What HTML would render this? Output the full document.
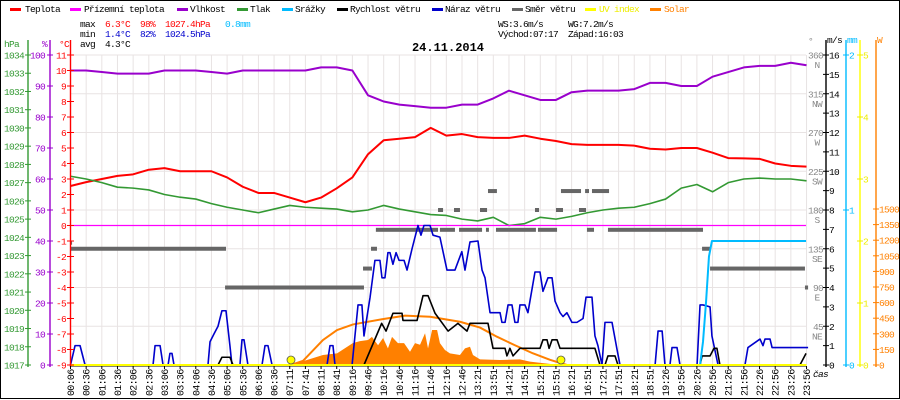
<!DOCTYPE html>
<html><head><meta charset="utf-8"><style>
html,body{margin:0;padding:0;background:#fff;}
svg{display:block;font-family:"Liberation Mono",monospace;}
svg text{letter-spacing:-0.7px;}
svg text.title{letter-spacing:0;}
</style></head><body>
<svg id="chart" width="900" height="400" viewBox="0 0 900 400" xmlns="http://www.w3.org/2000/svg">
<rect x="0.5" y="0.5" width="899" height="398" fill="#fff" stroke="#000" stroke-width="1"/>
<g id="legend" font-size="9.5">
 <g><rect x="10" y="8" width="11" height="3" fill="#ff0000"/><text x="25" y="12">Teplota</text></g>
 <g><rect x="70" y="8" width="11" height="3" fill="#ff00ff"/><text x="84" y="12">Přízemní teplota</text></g>
 <g><rect x="177" y="8" width="11" height="3" fill="#9900cc"/><text x="190" y="12">Vlhkost</text></g>
 <g><rect x="237" y="8" width="11" height="3" fill="#339933"/><text x="250" y="12">Tlak</text></g>
 <g><rect x="282" y="8" width="11" height="3" fill="#00bbff"/><text x="295" y="12">Srážky</text></g>
 <g><rect x="337" y="8" width="11" height="3" fill="#000"/><text x="350" y="12">Rychlost větru</text></g>
 <g><rect x="432" y="8" width="11" height="3" fill="#0000cc"/><text x="445" y="12">Náraz větru</text></g>
 <g><rect x="512" y="8" width="11" height="3" fill="#666"/><text x="525" y="12">Směr větru</text></g>
 <g><rect x="585" y="8" width="11" height="3" fill="#ffff00"/><text x="599" y="12" fill="#eeee00">UV index</text></g>
 <g><rect x="650" y="8" width="11" height="3" fill="#ff8000"/><text x="664" y="12" fill="#ff8000">Solar</text></g>
</g>
<g font-size="9.5">
 <text x="80" y="27">max</text><text x="105" y="27" fill="#f00">6.3°C</text><text x="140" y="27" fill="#f00">98%</text><text x="165" y="27" fill="#f00">1027.4hPa</text><text x="225" y="27" fill="#00bbff">0.8mm</text>
 <text x="80" y="37">min</text><text x="105" y="37" fill="#00c">1.4°C</text><text x="140" y="37" fill="#00c">82%</text><text x="165" y="37" fill="#00c">1024.5hPa</text>
 <text x="80" y="47">avg</text><text x="105" y="47">4.3°C</text>
 <text x="498" y="27">WS:3.6m/s</text><text x="568" y="27">WG:7.2m/s</text>
 <text x="498" y="37">Východ:07:17</text><text x="568" y="37">Západ:16:03</text>
</g>
<text class="title" x="448" y="51" text-anchor="middle" font-size="12" font-weight="bold">24.11.2014</text>
<g id="plot"></g>
</svg>
<script>
// ---- data ----
const timeLabels = ["00:06","00:36","01:06","01:36","02:06","02:36","03:06","03:36","04:06","04:36","05:06","05:36","06:06","06:36","07:11","07:41","08:11","08:41","09:16","09:46","10:16","10:46","11:16","11:46","12:16","12:46","13:21","13:51","14:21","14:51","15:21","15:51","16:21","16:51","17:21","17:51","18:21","18:51","19:26","19:56","20:26","20:56","21:26","21:56","22:26","22:56","23:26","23:56"];
const humidity = [95,95,94.5,94,94,94,95,95,95,94.5,94,95,95,95,95,95,96,96,95,87,85,84,83.5,83,83,84,84,86,88.5,87,85.5,85.5,88,88.5,88.5,88.5,89,91,91,90,90,93,94.5,96,96.5,96.5,97.5,96.7];
const temperature = [2.55,2.8,3.0,3.2,3.3,3.6,3.7,3.5,3.5,3.5,3.1,2.5,2.1,2.1,1.8,1.5,1.8,2.4,3.1,4.6,5.5,5.6,5.7,6.3,5.8,5.9,5.7,5.65,5.65,5.8,5.6,5.45,5.25,5.2,5.2,5.2,5.15,4.95,4.9,5.0,5.0,4.7,4.35,4.33,4.3,4.0,3.85,3.8];
const pressure = [1027.35,1027.2,1027.0,1026.75,1026.7,1026.6,1026.35,1026.2,1026.1,1025.85,1025.65,1025.5,1025.35,1025.55,1025.75,1025.65,1025.6,1025.55,1025.4,1025.5,1025.75,1025.55,1025.4,1025.25,1025.2,1025.0,1024.9,1025.1,1024.65,1024.75,1025.1,1025.0,1025.15,1025.35,1025.5,1025.6,1025.65,1025.85,1026.1,1026.7,1026.9,1026.5,1027.0,1027.2,1027.25,1027.2,1027.2,1027.1];
const apparentTemp = [0,0];
const gustT = [0,0.29,0.61,0.93,5.27,5.40,5.72,5.91,6.23,6.35,6.48,6.61,8.78,8.91,9.16,9.42,9.67,9.93,10.18,10.31,10.82,10.95,11.08,11.33,12.23,12.42,12.61,12.87,16.38,16.57,16.76,16.89,17.98,18.36,18.61,18.74,19.13,19.44,19.76,19.89,20.08,20.27,20.40,20.59,20.79,20.98,21.30,21.49,21.81,22.19,22.38,22.57,22.76,22.96,23.15,23.59,24.04,24.55,24.99,25.19,25.51,26.02,26.28,26.47,26.79,27.43,27.55,27.75,27.94,28.19,28.38,28.57,28.70,29.02,29.21,29.66,29.98,30.17,30.49,30.75,30.94,31.26,31.45,31.70,32.02,32.34,32.73,32.92,33.30,33.49,33.68,33.94,34.13,34.58,34.90,35.09,37.33,37.52,37.78,37.96,38.28,38.41,38.73,38.92,40.01,40.20,40.39,40.84,40.96,41.35,43.07,43.26,44.03,44.22,44.35,44.67,44.80,45.63,47.10];
const gustV = [0,1,1,0,0,1,1,0,0,0.6,0.6,0,0,1.2,1.6,2,2.8,2.8,1,0,0,1.3,1.3,0,0,1,1,0,0,1,1,0,0,3.1,3.1,1.5,3.5,5.4,5.4,4.5,4.5,5.8,5.8,5.2,5.8,5.4,5.4,4.9,6,7.2,6.7,7.2,7.2,7.2,6.7,6.6,4.9,4.9,5.85,4.9,6.35,6.4,4.9,4.5,2.7,2.7,2.2,2.2,3.1,3.1,2.2,2.2,3.1,3.1,2.7,4.8,4.8,3.8,4.5,4.5,3.3,2.7,2.5,2.7,2.2,2.2,2.4,3.5,3.5,1.5,1.0,0,2.2,2.2,0.8,0,0,1.75,1.75,0,0,0.9,0.9,0,0,3.1,3.1,3.0,1.5,0,0,0.9,1.34,1.0,1.34,1.34,0.9,0.9,0.9];
const windT = [0,9.42,9.67,10.18,10.38,18.74,19.87,20.15,20.59,21.17,21.23,22.13,22.51,22.83,23.28,24.11,24.74,25.32,25.51,26.66,26.98,27.75,27.87,28.06,28.26,28.70,29.98,30.17,30.43,30.56,30.75,31.07,31.26,33.49,33.81,34.13,34.32,34.77,34.96,40.20,40.33,40.84,41.09,41.28,41.47,46.58,46.97];
const windV = [0,0,0.4,0.4,0,0,2.15,1.75,2.67,2.67,2.3,2.3,3.58,3.58,2.67,1.75,2.15,1.75,2.15,2.15,0.86,0.86,0.47,0.86,0.47,0.86,0.86,1.3,1.3,0.86,1.3,1.3,0.86,0.86,0,0,0.47,0.47,0,0,0.47,0.47,0.86,0.86,0,0,0.6];
const solarT = [14.08,16.12,17.02,18.04,18.49,19.0,19.25,19.64,19.96,20.27,20.53,20.91,21.30,21.68,22.0,22.32,22.64,22.83,23.09,23.41,23.59,23.91,24.23,24.87,25.19,25.51,25.70,26.15,27.43,28.70,29.34,30.30,31.26];
const solarV = [0,96,112,211,230,240,270,190,260,160,270,210,210,128,210,195,305,160,336,336,210,144,112,96,160,176,96,54,48,54,32,16,0];
const solarMaxT = [14.08,14.85,16.12,17.02,18.04,19.89,21.36,22.96,24.87,26.15,27.23,28.38,29.53,30.62,31.70];
const solarMaxV = [0,40,240,336,390,440,475,464,416,360,272,190,112,50,0];
const rainT = [0,40.20,40.39,40.58,40.77,40.96,46.97];
const rainV = [0,0,0.15,0.4,0.7,0.8,0.8];
const uvT = [0,47];
const uvV = [0,0];
const sunT = [14.08,31.32];
const dirStart = [0,0.03,9.87,18.68,19.19,19.5,23.59,24.81,26.53,27.17,29.85,32.98,34.32,23.47,24.49,26.15,29.66,31.0,32.47,26.66,31.32,32.86,33.30,40.33,40.84,46.9];
const dirEnd   = [0.1,9.93,18.74,19.25,19.57,23.47,24.55,26.28,26.72,29.72,31.07,33.43,40.39,23.79,24.87,26.6,29.92,31.45,32.92,27.23,32.6,33.11,34.39,40.84,46.9,47.1];
const dirDeg   = [142,135,90,112,135,157,157,157,157,157,157,157,157,180,180,180,180,180,180,202,202,202,202,135,112,90];
const hpaTicks = [1017,1018,1019,1020,1021,1022,1023,1024,1025,1026,1027,1028,1029,1030,1031,1032,1033,1034];
const pctTicks = [0,10,20,30,40,50,60,70,80,90,100];
const tempTicks = [-9,-8,-7,-6,-5,-4,-3,-2,-1,0,1,2,3,4,5,6,7,8,9,10,11];
const degTicks = [45,90,135,180,225,270,315,360];
const degNames = ["NE","E","SE","S","SW","W","NW","N"];
const msTicks = [0,1,2,3,4,5,6,7,8,9,10,11,12,13,14,15,16];
const mmTicks = [0,1,2];
const uvTicks = [0,1,2,3,4,5];
const wTicks = [0,150,300,450,600,750,900,1050,1200,1350,1500];

// ---- scales ----
const X0 = 70.5, DX = 15.66;
const xT = t => X0 + t*DX;
const yC = c => 225.5 - c*15.5;
const yH = h => 365 - h*3.1;
const yP = p => 55 + (1034-p)*18.235;
const yW = v => 365 - v*19.375;
const yD = d => 365 - d*0.8611;
const yR = r => 365 - r*155;
const yU = u => 365 - u*62;
const yS = w => 365 - w*0.104;

const NS = "http://www.w3.org/2000/svg";
const plot = document.getElementById('plot');
function mk(tag, attrs, parent){ const e=document.createElementNS(NS,tag); for(const k in attrs) e.setAttribute(k,attrs[k]); (parent||plot).appendChild(e); return e; }
function g(){ return mk('g',{}); }
const ptsIdx = (arr, yf) => arr.map((v,i)=>xT(i).toFixed(2)+','+yf(v).toFixed(2)).join(' ');
const ptsTV = (ts, vs, yf) => ts.map((t,i)=>xT(t).toFixed(2)+','+yf(vs[i]).toFixed(2)).join(' ');

// grid
const grid = g();


timeLabels.forEach((l,i)=>{ const ln=mk('line',{x1:xT(i),x2:xT(i),y1:55,y2:365,stroke:'#e8e3e3','stroke-width':1},grid);
  
   });
degTicks.forEach(d=>{ const ln=mk('line',{x1:70,x2:806,y1:yD(d),y2:yD(d),stroke:'#e8e3e3','stroke-width':1},grid);
  
   });

// solar area
const sa = mk('polygon',{points: xT(solarT[0])+','+yS(0)+' '+ptsTV(solarT,solarV,yS)+' '+xT(solarT[solarT.length-1])+','+yS(0), fill:'#ff8000'});



// wind direction bars
const dg = g();


dirDeg.forEach((d,i)=>{ const r=mk('rect',{x:xT(dirStart[i]),y:yD(d)-2,width:Math.max(1,xT(dirEnd[i])-xT(dirStart[i])),height:4,fill:'#666'},dg);
  
   });

function line(ts, vs, yf, color, w, name, byIdx){
  const p = mk('polyline',{points: byIdx? ptsIdx(vs,yf) : ptsTV(ts,vs,yf), fill:'none', stroke:color, 'stroke-width':w, 'stroke-linejoin':'round'});
  return p;
}
let el;
el = line(solarMaxT, solarMaxV, yS, '#ff8000', 2);


el = line(null, humidity, yH, '#9900cc', 2, null, true);


el = line(null, temperature, yC, '#ff0000', 2, null, true);


el = line(null, pressure, yP, '#339933', 1.6, null, true);


el = mk('line',{x1:xT(0),x2:806,y1:yC(apparentTemp[0]),y2:yC(apparentTemp[1]),stroke:'#ff00ff','stroke-width':1.2});


el = line(gustT, gustV, yW, '#0000cc', 1.6);


el = line(windT, windV, yW, '#000', 1.6);


el = line(rainT, rainV, yR, '#00bbff', 2);


el = mk('line',{x1:70,x2:806,y1:366,y2:366,stroke:'#000','stroke-width':1});


el = line(uvT, uvV, yU, '#ffff00', 2);


sunT.forEach(t=>{ const c=mk('circle',{cx:xT(t),cy:360,r:4,fill:'#ffff00',stroke:'#555','stroke-width':0.8});
  
   });

// axes
function axis(x, color){ return mk('line',{x1:x,x2:x,y1:40,y2:367,stroke:color,'stroke-width':1.4}); }
function txt(x,y,s,color,anchor,size){ const t=mk('text',{x:x,y:y,fill:color,'font-size':size||9.5,'text-anchor':anchor||'start'}); t.textContent=s; return t; }

el = axis(28,'#339933');  
el = txt(4,47,'hPa','#339933');  
hpaTicks.forEach(p=>{ mk('line',{x1:25,x2:31,y1:yP(p),y2:yP(p),stroke:'#339933'});
  const t=txt(24,yP(p)+3.5,String(p),'#339933','end');
  
   });

el = axis(50,'#9900cc');  
el = txt(42,47,'%','#9900cc');  
pctTicks.forEach(p=>{ mk('line',{x1:47,x2:53,y1:yH(p),y2:yH(p),stroke:'#9900cc'});
  const t=txt(45,yH(p)+3.5,String(p),'#9900cc','end');
  
   });

el = axis(70.5,'#ff0000');  
el = txt(59,47,'°C','#ff0000');  
tempTicks.forEach(c=>{ mk('line',{x1:67,x2:74,y1:yC(c),y2:yC(c),stroke:'#ff0000'});
  const t=txt(66,yC(c)+3.5,String(c),'#ff0000','end');
  
   });

el = txt(808,44,'°','#888');  
degTicks.forEach((d,i)=>{ const t=txt(823,yD(d)+3.5,String(d),'#888','end');
  
  
  const n=txt(817,yD(d)+13,degNames[i],'#888','middle');
  
   });

el = axis(826,'#000');  
el = txt(827,43,'m/s','#000');  
msTicks.forEach(v=>{ mk('line',{x1:823,x2:829,y1:yW(v),y2:yW(v),stroke:'#000'});
  const t=txt(829,yW(v)+3.5,String(v),'#000');
  
   });

el = axis(846,'#00bbff');  
el = txt(847,43,'mm','#00bbff');  
mmTicks.forEach(v=>{ mk('line',{x1:843,x2:849,y1:yR(v),y2:yR(v),stroke:'#00bbff'});
  const t=txt(849,yR(v)+3.5,String(v),'#00bbff');
  
   });

el = axis(860,'#ffff00');  
uvTicks.forEach(v=>{ mk('line',{x1:857,x2:863,y1:yU(v),y2:yU(v),stroke:'#eeee00'});
  const t=txt(863,yU(v)+3.5,String(v),'#eeee00');
  
   });

el = axis(876,'#ff8000');  
el = txt(877,43,'W','#ff8000');  
wTicks.forEach(v=>{ mk('line',{x1:873,x2:879,y1:yS(v),y2:yS(v),stroke:'#ff8000'});
  const t=txt(879,yS(v)+3.5,String(v),'#ff8000');
  
   });

// x labels
timeLabels.forEach((l,i)=>{ const x=xT(i);
  mk('line',{x1:x,x2:x,y1:366,y2:369,stroke:'#000'});
  const t=mk('text',{x:0,y:0,'font-size':10,transform:`translate(${x+3.5},396) rotate(-90)`});
  t.textContent=l;
  
   });
el = txt(813,377,'čas','#000'); el.setAttribute('font-style','italic');


</script>
</body></html>
